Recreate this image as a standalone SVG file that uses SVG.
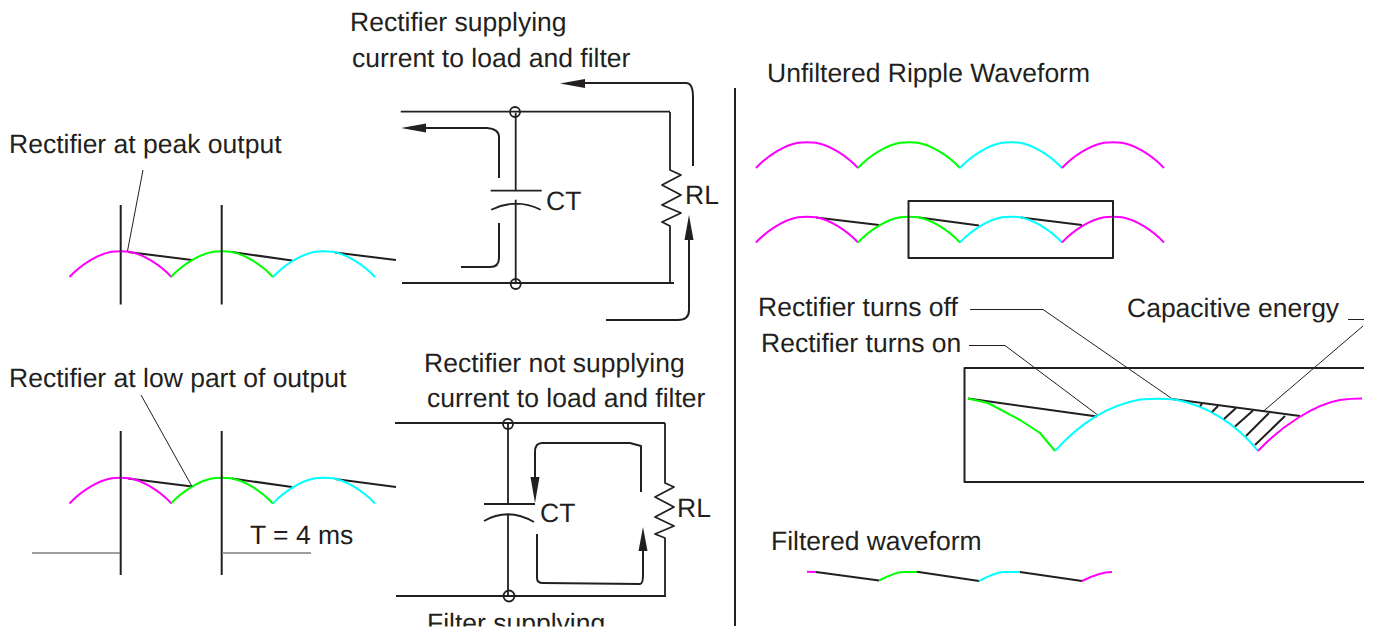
<svg xmlns="http://www.w3.org/2000/svg" width="1377" height="633" viewBox="0 0 1377 633">
<style>
text{font-family:"Liberation Sans",Arial,sans-serif;font-size:26.5px;fill:#231f20;text-rendering:geometricPrecision}
.l,.t,.g,.m,.gn,.c{fill:none;stroke-linejoin:round}
.l{stroke:#231f20;stroke-width:2}
.w{stroke-width:1.800}
.t{stroke:#231f20;stroke-width:1}
.g{stroke:#808080;stroke-width:1.3}
.m{stroke:#ff00ff;stroke-width:2}
.gn{stroke:#00ff00;stroke-width:2}
.c{stroke:#00ffff;stroke-width:2}
.h{fill:#231f20;stroke:none}
</style>
<defs>
<path id="arch" d="M0 26 C12 13 29 3 42 0.700 Q51 -0.300 60 0.700 C73 3 90 13 102 26"/>
<path id="res1" d="M0 0V58L11 63L-8 73L11 83L-8 93L11 101L-8 110L0 114V171"/>
<path id="cap" d="M-25 0H26M0 -78V0M-24.500 19Q0 7 25 19M0 9V93"/>
<clipPath id="page"><rect x="0" y="0" width="1377" height="626.500"/></clipPath>
</defs>

<g id="wave-peak">
<path class="l" d="M128 252L192 260M232 252L292 260.500M335 252.500L396 260"/>
<use href="#arch" class="m" x="69.500" y="251"/><use href="#arch" class="gn" x="171" y="251"/><use href="#arch" class="c" x="273" y="251"/>
<path class="l" d="M120.700 205V304.500M221.700 205V304.500"/>
<path class="t" d="M143 170L127.500 251"/>
</g>
<g id="wave-low">
<path class="l" d="M128 478.500L192 486.500M232 478.500L292 487M335 479L396 487"/>
<use href="#arch" class="m" x="69.500" y="477.500"/><use href="#arch" class="gn" x="171" y="477.500"/><use href="#arch" class="c" x="273" y="477.500"/>
<path class="l" d="M120.700 431V575M221.700 431V575"/>
<path class="t" d="M141 395L192 486.500"/>
<path class="g" d="M32 553H120M222 553H311"/>
</g>
<g id="circuit-top">
<path class="l w" d="M400.700 111.700H670M402 283H674"/>
<use href="#res1" class="l w" x="670" y="112"/>
<use href="#cap" class="l w" x="515.700" y="190.700"/>
<circle class="l w" cx="515" cy="112" r="5"/><circle class="l w" cx="515.700" cy="284" r="5"/>
</g>
<g id="circuit-bottom">
<path class="l w" d="M395 423H665M396 596H666M665 423V483L674 487L655 497L674 507L655 517L674 526L655 534L665 538V596"/>
<path class="l w" d="M484 504H535M508 424V504M484 521Q508 507 534 522M508 514V596"/>
<circle class="l w" cx="508" cy="424" r="5"/><circle class="l w" cx="509" cy="596" r="5.500"/>
</g>
<g id="connectors">
<path class="l" d="M693 166V97Q693 83 686 83H580"/><path class="h" d="M560 83.500L585 79V88Z"/>
<path class="l" d="M420 128H487Q499 129 499 137V178M499 223V258Q499 267 490 267H461"/><path class="h" d="M401 128L426 123.500V132.500Z"/>
<path class="l" d="M606 320H678Q689 320 689 310V235"/><path class="h" d="M689 215L693.500 240H684.500Z"/>
<path class="l" d="M641 492V446L630 443H542Q535 443 535 452V480"/><path class="h" d="M535 503L530.500 477H539.500Z"/>
<path class="l" d="M537 534V578Q537 583 543 583L640 584Q643 584 643 575V548"/><path class="h" d="M643 527L647.500 551H638.500Z"/>
<path class="t" d="M970 309.500H1043L1171 398M969 345.500H1005L1097.700 415M1348 319.500H1364M1363 326L1264 410.700"/>
</g>
<path id="divider" class="l" d="M735 88V626"/>
<g id="wave-unfiltered">
<use href="#arch" class="m" x="756" y="142"/><use href="#arch" class="gn" x="858" y="142"/><use href="#arch" class="c" x="960" y="142"/><use href="#arch" class="m" x="1062" y="142"/>
</g>
<g id="wave-ripple">
<path class="l" d="M816 217.500L879 225M919 217.500L979 225.500M1021 217.500L1082 225"/>
<use href="#arch" class="m" x="756" y="216.500"/><use href="#arch" class="gn" x="858" y="216.500"/><use href="#arch" class="c" x="960" y="216.500"/><use href="#arch" class="m" x="1062" y="216.500"/>
<rect class="l" x="908.500" y="201" width="204.500" height="57"/>
</g>
<g id="wave-detail">
<path class="l" d="M1364 368H964.500V482H1364"/>
<path class="l" d="M968 398.500L1097 416.500M1172 399L1300 416"/>
<path class="gn" d="M968 398.500L988 403L1020 420L1040 433L1055 451"/>
<path class="c" d="M1055 451C1080 423 1110 405 1140 399.500Q1160 398 1175 399.500C1205 405 1236 423 1258 451"/>
<path class="m" d="M1258 451C1280 427 1315 404 1340 400Q1350 398.500 1362 398.500"/>
<path class="l" d="M1200 406L1202 404M1212 412L1218 406M1224 419L1236 408M1235 426.500L1253 410.500M1246 436L1269 413M1255 445L1285 416"/>
</g>
<g id="wave-filtered">
<path class="l" d="M816 572L879 580.500M917 571.700L979 581M1020 572L1082 581"/>
<path class="m" d="M807 571.700L816 572M1082 581Q1100 572 1112 572"/>
<path class="gn" d="M879 580.500Q896 572 903 572H917"/>
<path class="c" d="M979 581Q996 572 1004 572H1020"/>
</g>
<g id="labels">
<text x="350" y="31">Rectifier supplying</text>
<text x="352" y="67">current to load and filter</text>
<text x="767" y="82">Unfiltered Ripple Waveform</text>
<text x="9" y="153">Rectifier at peak output</text>
<text x="9" y="387">Rectifier at low part of output</text>
<text x="424" y="372">Rectifier not supplying</text>
<text x="427" y="407">current to load and filter</text>
<text x="250" y="544">T = 4 ms</text>
<text x="546" y="210">CT</text>
<text x="540" y="522">CT</text>
<text x="685" y="204">RL</text>
<text x="677" y="517">RL</text>
<text x="758" y="316">Rectifier turns off</text>
<text x="761" y="352">Rectifier turns on</text>
<text x="1127" y="317">Capacitive energy</text>
<text x="771" y="550">Filtered waveform</text>
<text x="427" y="632" clip-path="url(#page)">Filter supplying</text>
</g>
</svg>
